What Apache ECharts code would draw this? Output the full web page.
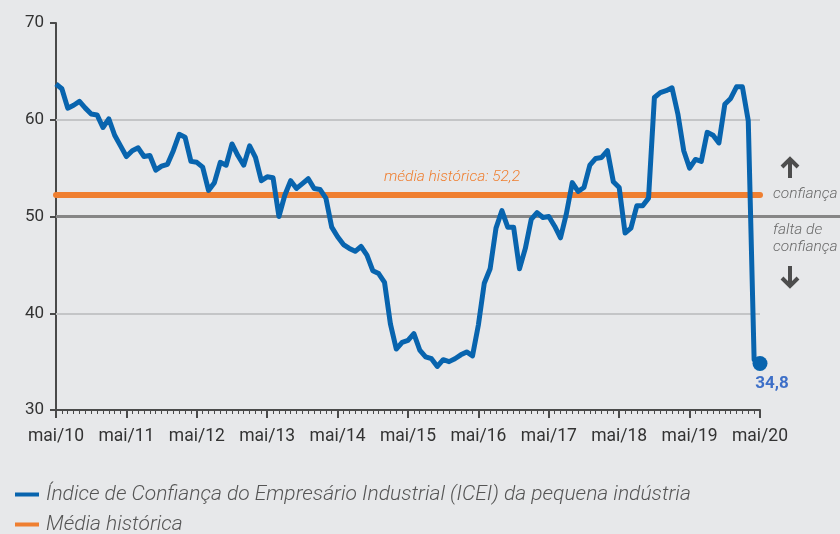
<!DOCTYPE html>
<html>
<head>
<meta charset="utf-8">
<script src="https://cdn.jsdelivr.net/npm/echarts@6/dist/echarts.min.js"></script>
<style>
  html, body { margin: 0; padding: 0; background: #e7e8ea; }
  #chart { width: 840px; height: 534px; }
</style>
</head>
<body>
<div id="chart"></div>
<script>
// rótulos anuais do eixo x (um a cada 12 meses)
const tickLabels = ["mai/10", "mai/11", "mai/12", "mai/13", "mai/14", "mai/15",
  "mai/16", "mai/17", "mai/18", "mai/19", "mai/20"];

// ICEI pequena indústria, mensal de mai/10 a mai/20
const iceiValues = [
  63.7, 63.2, 61.2, 61.5, 61.9, 61.2, 60.6, 60.5, 59.2, 60.1, 58.4, 57.3,
  56.2, 56.8, 57.1, 56.2, 56.3, 54.8, 55.2, 55.4, 56.8, 58.5, 58.2, 55.7,
  55.6, 55.1, 52.7, 53.5, 55.6, 55.3, 57.5, 56.3, 55.3, 57.3, 56.1, 53.7,
  54.1, 54.0, 50.0, 52.2, 53.7, 52.9, 53.4, 53.9, 52.9, 52.8, 51.9, 48.9,
  47.9, 47.1, 46.7, 46.4, 46.9, 46.0, 44.4, 44.1, 43.2, 38.9, 36.3, 37.0,
  37.2, 37.9, 36.2, 35.5, 35.3, 34.5, 35.2, 35.0, 35.3, 35.7, 36.0, 35.6,
  38.8, 43.1, 44.6, 48.8, 50.6, 48.9, 48.9, 44.6, 46.7, 49.7, 50.4, 49.9,
  50.0, 49.0, 47.8, 50.3, 53.5, 52.6, 53.0, 55.3, 56.0, 56.1, 56.8, 53.6,
  53.0, 48.3, 48.8, 51.1, 51.1, 51.9, 62.3, 62.8, 63.0, 63.3, 60.6, 56.8,
  55.0, 55.9, 55.7, 58.7, 58.4, 57.6, 61.6, 62.2, 63.4, 63.4, 59.9, 35.2,
  34.8
];

const mediaHistorica = 52.2;
const linhaNeutra = 50;
const gridLines = [40, 60];

const serieNome = "Índice de Confiança do Empresário Industrial (ICEI) da pequena indústria";
const mediaNome = "Média histórica";

const blue = "#0864ae";
const orange = "#ef7f31";
const fontFamily = "Roboto, 'Open Sans', sans-serif";

const lineData = iceiValues.map((v, i) => [i, v]);
const lastIdx = iceiValues.length - 1;

const legendText = { color: "#555", fontSize: 21, fontStyle: "italic", fontWeight: 300, padding: [0, 0, 0, 2] };

const chart = echarts.init(document.getElementById("chart"));

chart.setOption({
  backgroundColor: "#e7e8ea",
  animation: false,
  textStyle: { fontFamily: fontFamily },
  grid: [
    { left: 56, right: 80, top: 23, bottom: 124 },
    { left: 56, right: 0, top: 23, bottom: 124 }
  ],
  xAxis: [
    {
      type: "value",
      gridIndex: 0,
      min: 0,
      max: 120,
      interval: 12,
      axisLine: { show: true, lineStyle: { color: "#4a4a4a", width: 2 } },
      axisTick: { show: true, length: 8, lineStyle: { color: "#4a4a4a", width: 2 } },
      minorTick: { show: true, splitNumber: 12, length: 4, lineStyle: { color: "#4a4a4a", width: 1 } },
      splitLine: { show: false },
      axisLabel: {
        color: "#333",
        fontSize: 17.5,
        margin: 18,
        formatter: (v) => tickLabels[Math.round(v / 12)]
      }
    },
    { type: "value", gridIndex: 1, min: 0, max: 1, show: false }
  ],
  yAxis: [
    {
      type: "value",
      gridIndex: 0,
      min: 30,
      max: 70,
      interval: 10,
      axisLine: { show: true, lineStyle: { color: "#4a4a4a", width: 2 } },
      axisTick: { show: true, length: 6, lineStyle: { color: "#4a4a4a", width: 2 } },
      splitLine: { show: false },
      axisLabel: { color: "#333", fontSize: 17, margin: 12 }
    },
    { type: "value", gridIndex: 1, min: 30, max: 70, show: false }
  ],
  legend: [
    {
      left: 10, top: 479, itemWidth: 24, itemHeight: 4, icon: "rect",
      textStyle: legendText, data: [serieNome]
    },
    {
      left: 10, top: 509, itemWidth: 24, itemHeight: 4, icon: "rect",
      textStyle: legendText, data: [mediaNome]
    }
  ],
  series: [
    {
      // linha 50 (vai até a borda direita)
      type: "line",
      xAxisIndex: 1,
      yAxisIndex: 1,
      data: [],
      silent: true,
      markLine: {
        symbol: "none",
        silent: true,
        label: { show: false },
        lineStyle: { color: "#868686", width: 3, type: "solid" },
        data: [{ yAxis: linhaNeutra }]
      }
    },
    {
      type: "line",
      data: [],
      silent: true,
      markLine: {
        symbol: "none",
        silent: true,
        label: { show: false },
        lineStyle: { color: "#c4c5c7", width: 2, type: "solid" },
        data: gridLines.map((v) => ({ yAxis: v }))
      }
    },
    {
      name: mediaNome,
      type: "line",
      data: [],
      color: orange,
      markLine: {
        symbol: "none",
        silent: true,
        lineStyle: { color: orange, width: 6, type: "solid", cap: "round" },
        label: {
          show: true,
          position: "insideMiddleTop",
          distance: 10,
          padding: [0, 0, 0, 88],
          color: orange,
          fontSize: 15.5,
          fontStyle: "italic",
          fontWeight: 300,
          formatter: () => "média histórica: " + String(mediaHistorica).replace(".", ",")
        },
        data: [{ yAxis: mediaHistorica }]
      }
    },
    {
      name: serieNome,
      type: "line",
      data: lineData,
      color: blue,
      showSymbol: false,
      lineStyle: { color: blue, width: 5, join: "round" },
      z: 5
    },
    {
      type: "scatter",
      data: [lineData[lastIdx]],
      symbolSize: 15,
      itemStyle: { color: blue, opacity: 1 },
      z: 6,
      label: {
        show: true,
        position: "bottom",
        distance: 4,
        offset: [12, 0],
        color: "#3d6fc8",
        fontSize: 17,
        fontWeight: "bold",
        formatter: (p) => String(p.value[1]).replace(".", ",")
      }
    }
  ],
  graphic: [
    { type: "text", left: 773, top: 186, style: { text: "confiança", fill: "#6a6a6a", font: "italic 300 15.5px Roboto" } },
    { type: "text", left: 773, top: 222, style: { text: "falta de\nconfiança", fill: "#6a6a6a", font: "italic 300 15.5px Roboto", lineHeight: 17 } },
    { type: "polyline", shape: { points: [[790, 160], [790, 178]] }, style: { stroke: "#4d4d4d", lineWidth: 4 } },
    { type: "polyline", shape: { points: [[782, 167], [790, 159], [798, 167]] }, style: { stroke: "#4d4d4d", lineWidth: 4, fill: null } },
    { type: "polyline", shape: { points: [[790, 266], [790, 285]] }, style: { stroke: "#4d4d4d", lineWidth: 4 } },
    { type: "polyline", shape: { points: [[782, 278], [790, 286], [798, 278]] }, style: { stroke: "#4d4d4d", lineWidth: 4, fill: null } }
  ]
});
</script>
</body>
</html>
